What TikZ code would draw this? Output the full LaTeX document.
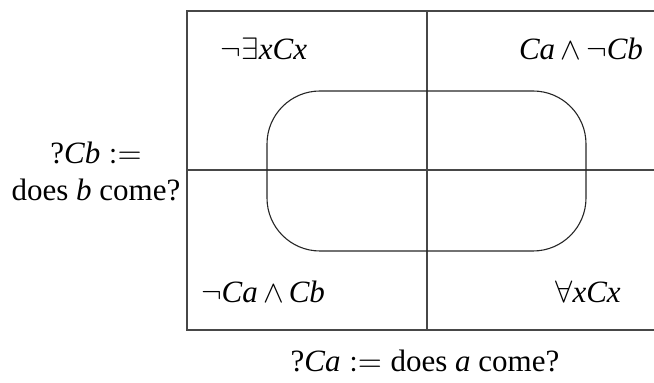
\documentclass[tikz,border=0pt]{standalone}
\usepackage{mathptmx}
\usepackage{fontspec}
\setmainfont{Liberation Serif}
\newcommand\vi[1]{\textit{#1}}
\begin{document}
\begin{tikzpicture}[x=0.5pt,y=-0.5pt,
  grid/.style={draw=black!72,line width=0.6pt},
  blob/.style={draw=black!85,line width=0.55pt,rounded corners=26.5pt},
  lbl/.style={inner sep=0pt,font=\fontsize{15.5}{18.5}\selectfont}]
\useasboundingbox (0,0) rectangle (654,383);
% frame and quadrant lines
\draw[grid] (654,11) -- (187,11) -- (187,330) -- (654,330);
\draw[grid] (427,11) -- (427,330);
\draw[grid] (187,170) -- (654,170);
% rounded region
\draw[blob] (267,91) rectangle (586,251);
% labels
\node[lbl] (tl) at (264,49) {$\neg\exists$\vi{xCx}};
\node[lbl] (tr) at (581,49) {\vi{Ca}\,$\wedge$\,$\neg$\vi{Cb}};
\node[lbl] (bl) at (263,292) {$\neg$\vi{Ca}\,$\wedge$\,\vi{Cb}};
\node[lbl] (br) at (588,292) {$\forall$\vi{xCx}};
\node[lbl,align=center] (ql) at (96,171) {?\vi{Cb}\;$:=$\\does \vi{b} come?};
\node[lbl] (qb) at (425,361) {?\vi{Ca}\;$:=$\;does \vi{a} come?};
\end{tikzpicture}
\end{document}
